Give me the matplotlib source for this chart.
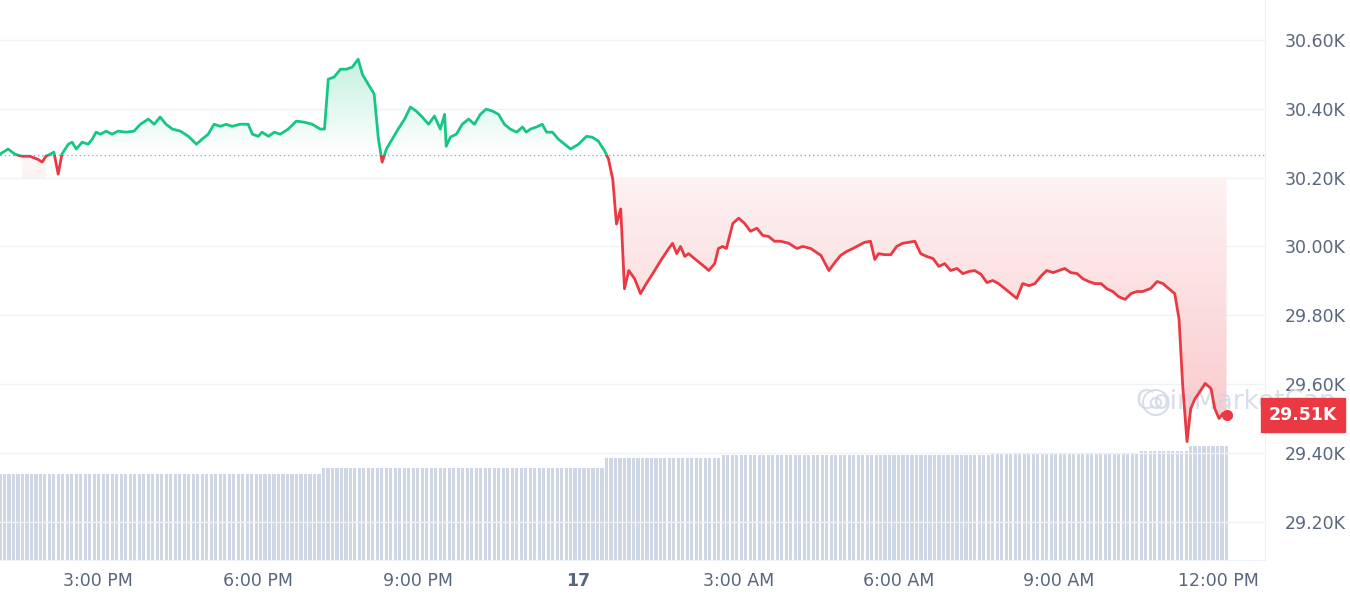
import numpy as np
import matplotlib
matplotlib.use("Agg")
import matplotlib.pyplot as plt
from matplotlib.patches import Rectangle
from matplotlib.path import Path

# time in hours since 13:10 (day 16), price in K USD
t_hours = [0.00, 0.15, 0.28, 0.41, 0.56, 0.71, 0.79, 0.86, 0.94, 1.01, 1.09, 1.16, 1.28, 1.35, 1.43, 1.54, 1.65, 1.73, 1.80, 1.88, 1.99, 2.10, 2.21, 2.36, 2.51, 2.63, 2.78, 2.89, 3.00, 3.11, 3.23, 3.38, 3.53, 3.68, 3.79, 3.90, 4.01, 4.13, 4.24, 4.35, 4.50, 4.65, 4.73, 4.84, 4.91, 5.03, 5.14, 5.25, 5.40, 5.55, 5.70, 5.85, 6.00, 6.08, 6.15, 6.26, 6.38, 6.49, 6.60, 6.71, 6.79, 6.90, 7.01, 7.09, 7.16, 7.24, 7.35, 7.46, 7.58, 7.69, 7.80, 7.91, 8.03, 8.14, 8.25, 8.33, 8.36, 8.44, 8.55, 8.66, 8.78, 8.89, 9.00, 9.11, 9.23, 9.34, 9.45, 9.56, 9.68, 9.79, 9.86, 9.94, 10.05, 10.16, 10.24, 10.35, 10.46, 10.58, 10.69, 10.84, 10.99, 11.10, 11.21, 11.33, 11.40, 11.48, 11.55, 11.63, 11.70, 11.78, 11.89, 12.00, 12.11, 12.23, 12.38, 12.53, 12.60, 12.68, 12.75, 12.83, 12.90, 13.01, 13.13, 13.20, 13.28, 13.39, 13.46, 13.54, 13.61, 13.73, 13.84, 13.95, 14.06, 14.18, 14.29, 14.40, 14.51, 14.63, 14.78, 14.93, 15.04, 15.19, 15.38, 15.53, 15.64, 15.75, 15.86, 15.98, 16.09, 16.20, 16.31, 16.39, 16.46, 16.58, 16.69, 16.80, 16.91, 17.03, 17.14, 17.25, 17.36, 17.48, 17.59, 17.70, 17.81, 17.93, 18.04, 18.15, 18.26, 18.38, 18.49, 18.60, 18.71, 18.83, 18.94, 19.05, 19.16, 19.28, 19.39, 19.50, 19.61, 19.73, 19.84, 19.95, 20.06, 20.18, 20.29, 20.40, 20.51, 20.63, 20.74, 20.85, 20.96, 21.08, 21.19, 21.30, 21.41, 21.56, 21.68, 21.79, 21.90, 22.01, 22.09, 22.16, 22.24, 22.31, 22.39, 22.46, 22.58, 22.69, 22.76, 22.84, 22.91, 22.98]
price_k = [30.268, 30.283, 30.268, 30.262, 30.262, 30.253, 30.245, 30.262, 30.268, 30.274, 30.210, 30.268, 30.297, 30.303, 30.283, 30.303, 30.297, 30.312, 30.332, 30.326, 30.335, 30.326, 30.335, 30.332, 30.335, 30.355, 30.370, 30.355, 30.376, 30.355, 30.341, 30.335, 30.320, 30.297, 30.312, 30.326, 30.355, 30.349, 30.355, 30.349, 30.355, 30.355, 30.326, 30.320, 30.332, 30.320, 30.332, 30.326, 30.341, 30.364, 30.361, 30.355, 30.341, 30.341, 30.486, 30.492, 30.515, 30.515, 30.521, 30.544, 30.500, 30.471, 30.443, 30.312, 30.245, 30.283, 30.312, 30.341, 30.370, 30.405, 30.393, 30.376, 30.355, 30.379, 30.341, 30.384, 30.291, 30.318, 30.326, 30.355, 30.370, 30.355, 30.384, 30.399, 30.393, 30.384, 30.355, 30.341, 30.332, 30.347, 30.332, 30.341, 30.347, 30.355, 30.332, 30.332, 30.312, 30.297, 30.283, 30.297, 30.320, 30.317, 30.306, 30.277, 30.254, 30.196, 30.065, 30.109, 29.877, 29.930, 29.906, 29.863, 29.892, 29.921, 29.959, 29.994, 30.009, 29.979, 30.000, 29.971, 29.979, 29.965, 29.950, 29.941, 29.930, 29.950, 29.994, 30.000, 29.994, 30.067, 30.082, 30.067, 30.044, 30.053, 30.032, 30.029, 30.015, 30.015, 30.009, 29.994, 30.000, 29.994, 29.974, 29.930, 29.953, 29.974, 29.985, 29.994, 30.003, 30.012, 30.015, 29.962, 29.979, 29.976, 29.976, 30.000, 30.009, 30.012, 30.015, 29.979, 29.971, 29.965, 29.942, 29.950, 29.930, 29.936, 29.921, 29.927, 29.930, 29.919, 29.895, 29.901, 29.892, 29.877, 29.863, 29.849, 29.892, 29.886, 29.892, 29.913, 29.930, 29.924, 29.930, 29.936, 29.924, 29.921, 29.906, 29.898, 29.892, 29.892, 29.877, 29.869, 29.854, 29.846, 29.863, 29.869, 29.869, 29.878, 29.898, 29.892, 29.877, 29.863, 29.790, 29.593, 29.433, 29.529, 29.558, 29.573, 29.602, 29.587, 29.529, 29.500, 29.515, 29.510]

# volume bar heights (relative units) by block, left to right
vol_levels = [100, 107, 118, 122, 124, 126, 132]
vol_counts = [72, 63, 26, 60, 33, 11, 9]
volume = np.repeat(vol_levels, vol_counts)

baseline = 30.266
last_price = 29.51
yticks = [29.2, 29.4, 29.6, 29.8, 30.0, 30.2, 30.4, 30.6]
xtick_pos = [1.83, 4.83, 7.83, 10.83, 13.83, 16.83, 19.83, 22.83]
xtick_labels = ["3:00 PM", "6:00 PM", "9:00 PM", "17", "3:00 AM", "6:00 AM", "9:00 AM", "12:00 PM"]

GREEN = "#16c784"
RED = "#ea3943"
TXT = "#58667e"

n = min(len(t_hours), len(price_k))
t = np.array(t_hours[:n])
p = np.array(price_k[:n])
xmin, xmax = 0, 23.7
ymin, ymax = 29.089, 30.716

fig = plt.figure(figsize=(13.5, 6), dpi=100)
ax = fig.add_axes([0, 0.0667, 0.937, 0.9333])
ax.set_xlim(xmin, xmax)
ax.set_ylim(ymin, ymax)

# volume on its own axis
axv = ax.twinx()
axv.set_ylim(0, 650)
axv.set_xlim(xmin, xmax)
xv = np.linspace(0, t[-1], len(volume))
axv.bar(xv, volume, width=(xv[1] - xv[0]) * 0.7, color="#cfd6e4", zorder=1)
axv.set_yticks([])
for s in axv.spines.values():
    s.set_visible(False)
ax.set_zorder(axv.get_zorder() + 1)
ax.patch.set_visible(False)

for y in yticks:
    ax.axhline(y, color="#eff2f5", lw=1, zorder=0)
ax.axhline(baseline, color="#a0a7b4", lw=1, ls=(0, (1, 2)), zorder=2)

# gradient fills
green_grad = np.linspace(0.0, 0.25, 100).reshape(-1, 1)
im = ax.imshow(green_grad, extent=[0, t[-1], baseline, p.max()], origin="lower",
               cmap=matplotlib.colors.LinearSegmentedColormap.from_list("g", ["white", GREEN]),
               vmin=0, vmax=1, aspect="auto", zorder=2)
poly = ax.fill_between(t, p, baseline, where=p >= baseline, interpolate=True, color="none")
im.set_clip_path(Path.make_compound_path(*poly.get_paths()), transform=ax.transData)

red_grad = np.linspace(0.28, 0.05, 100).reshape(-1, 1)
im2 = ax.imshow(red_grad, extent=[0, t[-1], p.min(), baseline], origin="lower",
                cmap=matplotlib.colors.LinearSegmentedColormap.from_list("r", ["white", RED]),
                vmin=0, vmax=1, aspect="auto", zorder=2)
poly2 = ax.fill_between(t, p, 30.2, where=p <= baseline, interpolate=True, color="none")
im2.set_clip_path(Path.make_compound_path(*poly2.get_paths()), transform=ax.transData)
ax.set_xlim(xmin, xmax)
ax.set_ylim(ymin, ymax)

# price line split by baseline
lg, = ax.plot(t, p, color=GREEN, lw=2, zorder=4)
lg.set_clip_path(Rectangle((xmin, baseline), xmax, ymax - baseline, transform=ax.transData))
lr, = ax.plot(t, p, color=RED, lw=2, zorder=4)
lr.set_clip_path(Rectangle((xmin, ymin), xmax, baseline - ymin, transform=ax.transData))
ax.plot(t[-1], p[-1], "o", color=RED, ms=7, zorder=5)

# watermark
ax.text(0.99, 0.33, "CoinMarketCap", transform=fig.transFigure, fontsize=19,
        color="#cfd6e4", alpha=0.8, ha="right", va="center", zorder=3)
ax.text(0.868, 0.33, "\u25CE", transform=fig.transFigure, fontsize=26,
        color="#cfd6e4", alpha=0.8, ha="right", va="center", zorder=3)

ax.set_yticks(yticks)
ax.set_yticklabels([f"{v:.2f}K" for v in yticks])
ax.yaxis.tick_right()
ax.tick_params(axis="y", length=0, pad=14, labelsize=12.5, labelcolor=TXT)
ax.set_xticks(xtick_pos)
ax.set_xticklabels(xtick_labels)
ax.tick_params(axis="x", length=0, pad=9, labelsize=12.5, labelcolor=TXT)
ax.get_xticklabels()[3].set_fontweight("bold")
for side in ["top", "left"]:
    ax.spines[side].set_visible(False)
for side in ["right", "bottom"]:
    ax.spines[side].set_color("#eff2f5")

ax.annotate(f"{last_price:.2f}K", xy=(1.0, last_price), xycoords=("axes fraction", "data"),
            xytext=(3, 0), textcoords="offset points", ha="left", va="center",
            fontsize=12.5, color="white", fontweight="bold", annotation_clip=False,
            bbox=dict(boxstyle="square,pad=0.45", fc=RED, ec=RED))

fig.savefig("out.png", dpi=100)
